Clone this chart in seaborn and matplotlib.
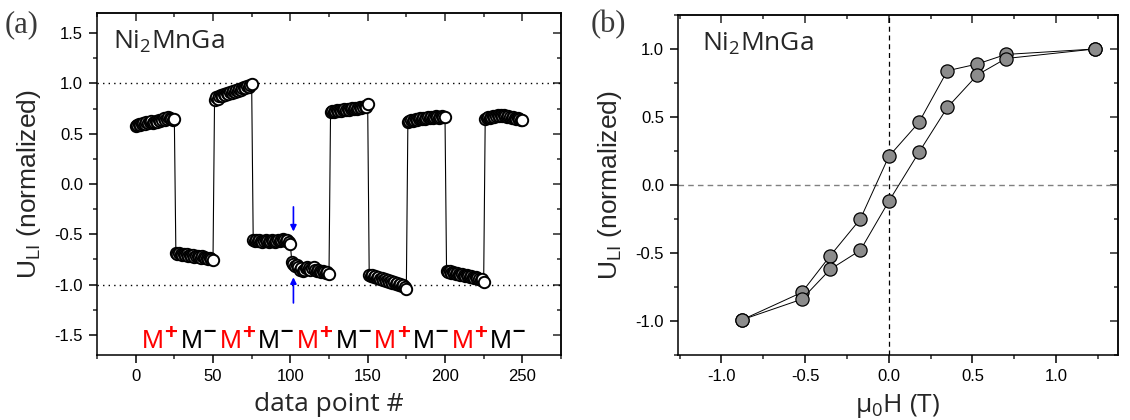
import numpy as np
import pandas as pd
import matplotlib
matplotlib.use("Agg")
import matplotlib.pyplot as plt
from matplotlib.ticker import MultipleLocator
import seaborn as sns

# ---------------- data: panel (a) ----------------
seg1 = [0.58, 0.59, 0.60, 0.59, 0.60, 0.61, 0.60, 0.62, 0.61, 0.62, 0.63, 0.61, 0.62,
        0.63, 0.62, 0.64, 0.63, 0.64, 0.66, 0.64, 0.65, 0.67, 0.66, 0.65, 0.64, 0.65]
seg2 = [-0.69, -0.70, -0.69, -0.70, -0.71, -0.70, -0.71, -0.70, -0.72, -0.71, -0.72, -0.71, -0.73,
        -0.72, -0.72, -0.73, -0.74, -0.72, -0.73, -0.74, -0.74, -0.75, -0.74, -0.75, -0.76]
seg3 = [0.84, 0.86, 0.85, 0.87, 0.88, 0.87, 0.89, 0.88, 0.90, 0.89, 0.91, 0.90, 0.92,
        0.91, 0.93, 0.92, 0.94, 0.93, 0.95, 0.96, 0.95, 0.97, 0.96, 0.98, 0.99]
seg4 = [-0.56, -0.57, -0.56, -0.57, -0.56, -0.57, -0.58, -0.57, -0.56, -0.57, -0.58, -0.57, -0.56,
        -0.57, -0.58, -0.57, -0.56, -0.57, -0.56, -0.55, -0.56, -0.57, -0.56, -0.58, -0.60]
seg5 = [-0.78, -0.80, -0.82, -0.81, -0.83, -0.85, -0.84, -0.86, -0.85, -0.84, -0.83, -0.84, -0.85,
        -0.84, -0.83, -0.85, -0.86, -0.85, -0.86, -0.87, -0.86, -0.87, -0.88, -0.87, -0.89]
seg6 = [0.72, 0.73, 0.72, 0.73, 0.74, 0.73, 0.74, 0.73, 0.74, 0.75, 0.74, 0.75, 0.74,
        0.75, 0.76, 0.75, 0.76, 0.75, 0.76, 0.77, 0.76, 0.77, 0.78, 0.77, 0.80]
seg7 = [-0.90, -0.91, -0.90, -0.92, -0.91, -0.93, -0.92, -0.94, -0.93, -0.95, -0.94, -0.96, -0.95,
        -0.97, -0.96, -0.98, -0.97, -0.99, -0.98, -1.00, -0.99, -1.01, -1.00, -1.02, -1.04]
seg8 = [0.62, 0.63, 0.64, 0.63, 0.64, 0.65, 0.64, 0.65, 0.66, 0.65, 0.66, 0.65, 0.66,
        0.67, 0.66, 0.67, 0.66, 0.67, 0.68, 0.67, 0.66, 0.67, 0.68, 0.67, 0.67]
seg9 = [-0.86, -0.87, -0.86, -0.88, -0.87, -0.88, -0.89, -0.88, -0.89, -0.90, -0.89, -0.90, -0.91,
        -0.90, -0.91, -0.92, -0.91, -0.92, -0.93, -0.92, -0.93, -0.94, -0.95, -0.94, -0.97]
seg10 = [0.65, 0.66, 0.67, 0.66, 0.67, 0.68, 0.67, 0.68, 0.69, 0.68, 0.69, 0.68, 0.69,
         0.68, 0.67, 0.68, 0.67, 0.66, 0.67, 0.66, 0.65, 0.66, 0.65, 0.64, 0.64]
state_signs = ["+", "-", "+", "-", "+", "-", "+", "-", "+", "-"]
state_colors = ["#ff0000", "black"] * 5
arrow_point = 102

# ---------------- data: panel (b) ----------------
H_down = [1.23, 0.70, 0.53, 0.35, 0.18, 0.00, -0.17, -0.35, -0.52, -0.875]
U_down = [1.00, 0.96, 0.89, 0.84, 0.46, 0.21, -0.25, -0.52, -0.79, -0.99]
H_up = [-0.875, -0.52, -0.35, -0.17, 0.00, 0.18, 0.35, 0.53, 0.70, 1.23]
U_up = [-0.99, -0.84, -0.62, -0.48, -0.12, 0.24, 0.57, 0.81, 0.93, 1.00]

# ---------------- style ----------------
sns.set_style("ticks")
plt.rcParams["font.family"] = ["Liberation Sans", "DejaVu Sans"]
plt.rcParams["mathtext.default"] = "regular"
plt.rcParams["axes.unicode_minus"] = False
plt.rcParams["axes.linewidth"] = 1.1

fig = plt.figure(figsize=(11.3, 4.2), dpi=100)
axA = fig.add_axes([97 / 1130, 1 - 355 / 420, (561 - 97) / 1130, (355 - 13) / 420])
axB = fig.add_axes([678 / 1130, 1 - 355 / 420, (1118 - 678) / 1130, (355 - 15) / 420])

tick_fs = 12
lab_fs = 19
sans2 = ["Open Sans", "DejaVu Sans"]


def style_axes(ax, xmaj, xmin, ymaj, ymin):
    ax.xaxis.set_major_locator(MultipleLocator(xmaj))
    ax.xaxis.set_minor_locator(MultipleLocator(xmin))
    ax.yaxis.set_major_locator(MultipleLocator(ymaj))
    ax.yaxis.set_minor_locator(MultipleLocator(ymin))
    ax.tick_params(which="major", direction="out", length=6, width=1.1,
                   labelsize=tick_fs, pad=4, colors="black")
    ax.tick_params(which="minor", direction="out", length=3, width=1.1)
    for s in ax.spines.values():
        s.set_visible(True)
        s.set_color("black")
        s.set_linewidth(1.1)
    top = ax.secondary_xaxis("top")
    top.xaxis.set_major_locator(MultipleLocator(xmaj))
    top.xaxis.set_minor_locator(MultipleLocator(xmin))
    top.tick_params(which="major", direction="in", length=6, width=1.1, labeltop=False)
    top.tick_params(which="minor", direction="in", length=3, width=1.1)
    right = ax.secondary_yaxis("right")
    right.yaxis.set_major_locator(MultipleLocator(ymaj))
    right.yaxis.set_minor_locator(MultipleLocator(ymin))
    right.tick_params(which="major", direction="in", length=6, width=1.1, labelright=False)
    right.tick_params(which="minor", direction="in", length=3, width=1.1)


# ---------------- panel (a) ----------------
segments = [seg1, seg2, seg3, seg4, seg5, seg6, seg7, seg8, seg9, seg10]
ya = np.concatenate([np.array(s) for s in segments])
xa = np.arange(len(ya))
dfa = pd.DataFrame({"point": xa, "U": ya})

axA.axhline(1.0, color="black", lw=1.0, ls=(0, (1, 3)), zorder=1)
axA.axhline(-1.0, color="black", lw=1.0, ls=(0, (1, 3)), zorder=1)
sns.lineplot(data=dfa, x="point", y="U", ax=axA, sort=False, estimator=None,
             color="black", lw=0.8, marker="o", markersize=8.2,
             markerfacecolor="white", markeredgecolor="black", markeredgewidth=1.4, zorder=3)
axA.set_xlim(-25, 275)
axA.set_ylim(-1.7, 1.7)
style_axes(axA, 50, 25, 0.5, 0.25)
axA.set_xlabel("data point #", fontsize=lab_fs, family=sans2, labelpad=6)
axA.set_ylabel("U$_{LI}$ (normalized)", fontsize=lab_fs, labelpad=8)
axA.text(0.035, 0.955, "Ni$_2$MnGa", transform=axA.transAxes, fontsize=lab_fs,
         family=sans2, va="top", ha="left")

# state labels centred on each segment: "M" followed by a raised sign
starts = np.cumsum([0] + [len(s) for s in segments[:-1]])
for st, seg, sign, col in zip(starts, segments, state_signs, state_colors):
    cx = st + (len(seg) - 1) / 2
    axA.annotate("M", xy=(cx, -1.63), xytext=(6, 0), textcoords="offset points",
                 color=col, fontsize=19, ha="right", va="baseline")
    sign_txt = "+" if sign == "+" else "\u2013"
    axA.annotate(sign_txt, xy=(cx, -1.63), xytext=(6.5, 6.5 if sign == "+" else 8),
                 textcoords="offset points", color=col, fontsize=16,
                 fontweight="bold", ha="left", va="baseline")

axA.annotate("", xy=(arrow_point, -0.50), xytext=(arrow_point, -0.20),
             arrowprops=dict(arrowstyle="-|>", color="blue", lw=1.2, mutation_scale=9))
axA.annotate("", xy=(arrow_point, -0.90), xytext=(arrow_point, -1.21),
             arrowprops=dict(arrowstyle="-|>", color="blue", lw=1.2, mutation_scale=9))

# ---------------- panel (b) ----------------
dfd = pd.DataFrame({"H": H_down, "U": U_down})
dfu = pd.DataFrame({"H": H_up, "U": U_up})
axB.axvline(0, color="black", lw=0.9, ls=(0, (4, 3)), zorder=1)
axB.axhline(0, color="#808080", lw=1.0, ls=(0, (4, 3)), zorder=1)
for d in (dfd, dfu):
    sns.lineplot(data=d, x="H", y="U", ax=axB, sort=False, estimator=None,
                 color="black", lw=0.7, marker="o", markersize=9.5,
                 markerfacecolor="#8c8c8c", markeredgecolor="black", markeredgewidth=0.9, zorder=3)
axB.set_xlim(-1.26, 1.37)
axB.set_ylim(-1.25, 1.25)
style_axes(axB, 0.5, 0.25, 0.5, 0.25)
axB.set_xlabel("\u03bc$_0$H (T)", fontsize=lab_fs, family=sans2, labelpad=6)
axB.set_ylabel("U$_{LI}$ (normalized)", fontsize=lab_fs, labelpad=8)
axB.text(0.055, 0.955, "Ni$_2$MnGa", transform=axB.transAxes, fontsize=lab_fs,
         family=sans2, va="top", ha="left")

# panel letters
fig.text(5 / 1130, 1 - 25 / 420, "(a)", fontsize=22, family=["Liberation Serif", "DejaVu Serif"],
         color="#3a3a3a", va="center", ha="left")
fig.text(591 / 1130, 1 - 25 / 420, "(b)", fontsize=22, family=["Liberation Serif", "DejaVu Serif"],
         color="#3a3a3a", va="center", ha="left")

fig.savefig("out.png", dpi=100)
